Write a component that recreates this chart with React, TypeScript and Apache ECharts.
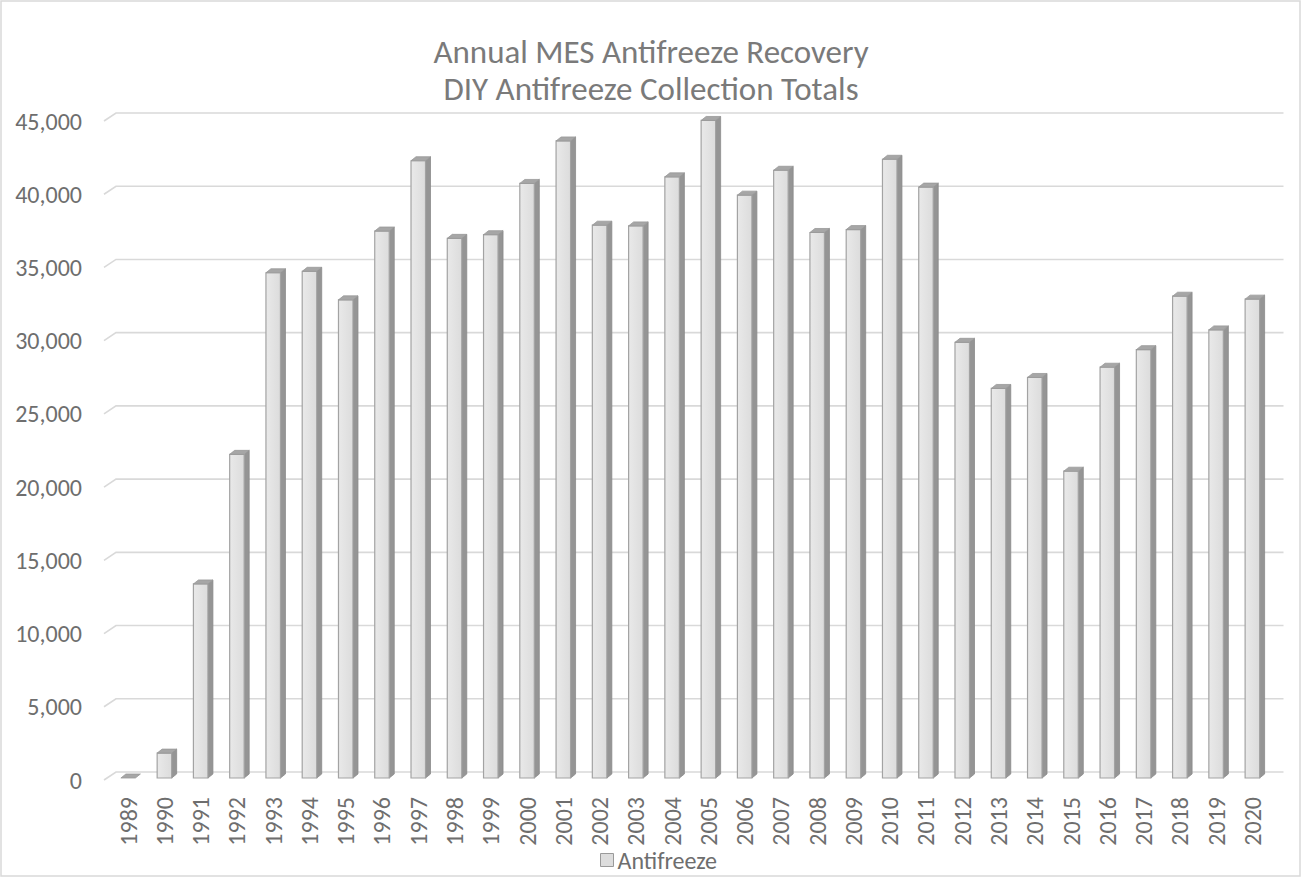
import React, { useEffect, useRef } from "react";
import * as echarts from "echarts";

const years: string[] = [
  "1989", "1990", "1991", "1992", "1993", "1994", "1995", "1996",
  "1997", "1998", "1999", "2000", "2001", "2002", "2003", "2004",
  "2005", "2006", "2007", "2008", "2009", "2010", "2011", "2012",
  "2013", "2014", "2015", "2016", "2017", "2018", "2019", "2020",
];

const antifreeze: number[] = [
  0, 1700, 13250, 22100, 34500, 34600, 32650, 37350,
  42150, 36850, 37100, 40600, 43500, 37750, 37700, 41050,
  44900, 39800, 41500, 37250, 37450, 42250, 40350, 29750,
  26600, 27350, 20950, 28050, 29250, 32900, 30600, 32700,
];

const yTicks: number[] = [0, 5000, 10000, 15000, 20000, 25000, 30000, 35000, 40000, 45000];

const titleLines: string[] = ["Annual MES Antifreeze Recovery", "DIY Antifreeze Collection Totals"];
const seriesName = "Antifreeze";

const FONT = "Carlito, Calibri, Lato, 'Open Sans', sans-serif";
const TEXT_COLOR = "#6e6e6e";

export default function App() {
  const ref = useRef<HTMLDivElement>(null);

  useEffect(() => {
    if (!ref.current) return;
    const chart = echarts.init(ref.current, undefined, { renderer: "svg" });

    const option: any = {
      animation: false,
      backgroundColor: "#ffffff",
      textStyle: { fontFamily: FONT },
      title: {
        text: titleLines.join("\n"),
        left: "center",
        top: 29,
        textStyle: {
          fontFamily: FONT,
          fontSize: 33,
          fontWeight: "normal",
          color: "#7a7a7a",
          lineHeight: 36.5,
        },
      },
      legend: {
        data: [
          {
            name: seriesName,
            icon: "rect",
            itemStyle: { color: "#dddddd", borderColor: "#9a9a9a", borderWidth: 1 },
          },
        ],
        left: 595,
        top: 843,
        itemWidth: 13,
        itemHeight: 13,
        itemGap: 6,
        textStyle: { fontFamily: FONT, fontSize: 24, color: TEXT_COLOR, padding: [0, 0, 0, -1] },
      },
      graphic: [
        {
          type: "rect",
          shape: { x: 1, y: 1, width: 1299, height: 875 },
          style: { fill: "none", stroke: "#d9d9d9", lineWidth: 1.5 },
          silent: true,
        },
      ],
      grid: {
        left: 110,
        right: 31.5,
        top: 121,
        bottom: 98,
        containLabel: false,
        outerBoundsMode: "none",
      },
      xAxis: {
        type: "category",
        data: years,
        axisLine: { show: false },
        axisTick: { show: false },
        splitLine: { show: false },
        axisLabel: {
          rotate: 90,
          margin: 17,
          interval: 0,
          fontFamily: FONT,
          fontSize: 24,
          color: TEXT_COLOR,
        },
      },
      yAxis: {
        type: "value",
        min: 0,
        max: 45000,
        interval: 5000,
        axisLine: { show: false },
        axisTick: { show: false },
        splitLine: { show: false },
        axisLabel: {
          margin: 28,
          fontFamily: FONT,
          fontSize: 24,
          color: TEXT_COLOR,
        },
      },
      series: [
        {
          type: "custom",
          name: "gridlines",
          silent: true,
          z: 1,
          data: yTicks.map((v) => [0, v]),
          renderItem: (params: any, api: any) => {
            const cs = params.coordSys;
            const y = api.coord([0, api.value(1)])[1];
            const x0 = cs.x - 6;
            const x1 = cs.x + 6;
            const x2 = cs.x + cs.width + 13;
            return {
              type: "polyline",
              shape: { points: [[x0, y], [x1, y - 8], [x2, y - 8]] },
              style: { fill: "none", stroke: "#d9d9d9", lineWidth: 1.6 },
            };
          },
        },
        {
          type: "custom",
          name: seriesName,
          z: 5,
          itemStyle: { color: "#dddddd" },
          data: antifreeze.map((v, i) => [i, v]),
          renderItem: (params: any, api: any) => {
            const idx = api.value(0);
            const val = api.value(1);
            const top = api.coord([idx, val]);
            const base = api.coord([idx, 0]);
            const band = api.size([1, 0])[0];
            const w = band * 0.4;
            const dx = 5;
            const dy = 4;
            const cx = base[0];
            const L = cx - w / 2;
            const R = cx + w / 2;
            const yb = base[1] - 2;
            const yt = top[1] - 2;
            const children: any[] = [];
            if (yb - yt > 0.5) {
              children.push({
                type: "polygon",
                shape: { points: [[R, yt], [R + dx, yt - dy], [R + dx, yb - dy], [R, yb]] },
                style: { fill: "#959595", stroke: "#8a8a8a", lineWidth: 0.8 },
              });
              children.push({
                type: "rect",
                shape: { x: L, y: yt, width: w, height: yb - yt },
                style: {
                  fill: new echarts.graphic.LinearGradient(0, 0, 1, 0, [
                    { offset: 0, color: "#e9e9e9" },
                    { offset: 1, color: "#dcdcdc" },
                  ]),
                  stroke: "#a3a3a3",
                  lineWidth: 1.2,
                },
              });
            }
            children.push({
              type: "polygon",
              shape: { points: [[L, yt], [L + dx, yt - dy], [R + dx, yt - dy], [R, yt]] },
              style: { fill: "#a6a6a6", stroke: "#999999", lineWidth: 0.8 },
            });
            return { type: "group", children };
          },
        },
      ],
    };

    chart.setOption(option);
    return () => {
      chart.dispose();
    };
  }, []);

  return (
    <div
      ref={ref}
      style={{ position: "absolute", left: 0, top: 0, width: 1302, height: 878 }}
    />
  );
}
